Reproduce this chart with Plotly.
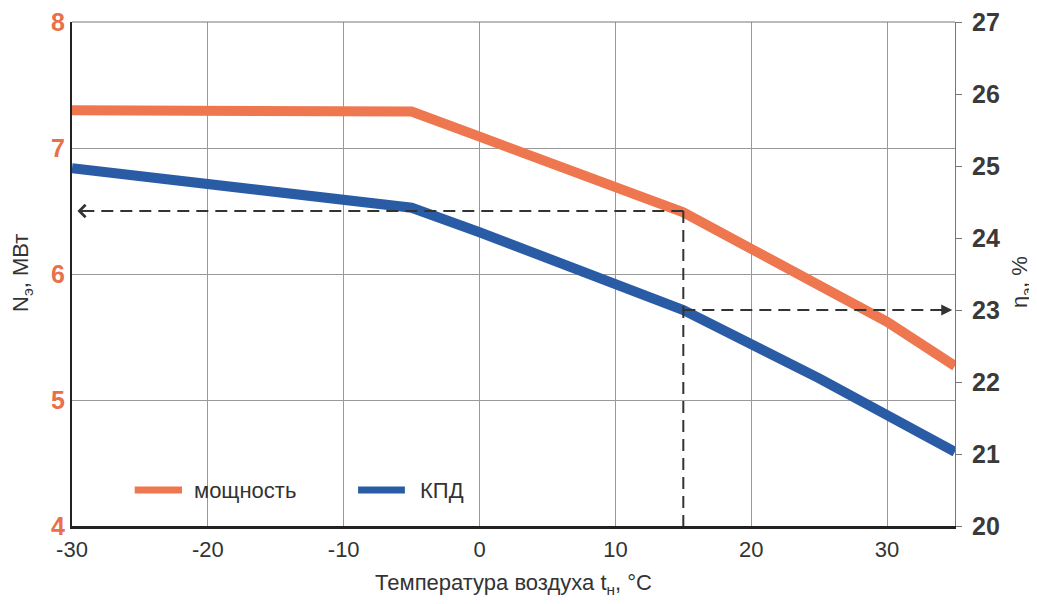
import plotly.graph_objects as go

# Data
temp_power = [-30, -5, 0, 10, 15, 20, 30, 35]
power = [7.3, 7.29, 7.09, 6.68, 6.49, 6.2, 5.62, 5.27]

temp_eff = [-30, -5, 0, 10, 15, 25, 35]
eff = [24.97, 24.42, 24.08, 23.38, 23.0, 22.05, 21.03]

series_names = ["мощность", "КПД"]

marker_t = 15
marker_power = 6.5
marker_eff = 23.0

x_ticks = [-30, -20, -10, 0, 10, 20, 30]
left_ticks = [4, 5, 6, 7, 8]
right_ticks = [20, 21, 22, 23, 24, 25, 26, 27]

ORANGE = "#EE7750"
BLUE = "#2A5CA6"
DASH = "#333333"
TXT = "#333333"
FONT = "Liberation Sans, Arial, sans-serif"

fig = go.Figure()
fig.add_trace(go.Scatter(x=temp_power, y=power, mode="lines", name=series_names[0],
                         line=dict(color=ORANGE, width=10), yaxis="y", showlegend=False))
fig.add_trace(go.Scatter(x=temp_eff, y=eff, mode="lines", name=series_names[1],
                         line=dict(color=BLUE, width=10), yaxis="y2", showlegend=False))

dash_line = dict(color=DASH, width=2, dash="12px,7px")
fig.add_shape(type="line", xref="x", yref="y", x0=marker_t, x1=-29.3,
              y0=marker_power, y1=marker_power, line=dash_line)
fig.add_shape(type="line", xref="x", yref="y", x0=marker_t, x1=marker_t,
              y0=marker_power, y1=4, line=dash_line)
fig.add_shape(type="line", xref="x", yref="y2", x0=marker_t, x1=34.4,
              y0=marker_eff, y1=marker_eff, line=dash_line)

fig.add_annotation(x=-29.6, y=marker_power, xref="x", yref="y",
                   ax=-28.6, ay=marker_power, axref="x", ayref="y",
                   showarrow=True, arrowhead=4, arrowsize=1.2, arrowwidth=2,
                   arrowcolor=DASH, text="")
fig.add_annotation(x=34.8, y=marker_eff, xref="x", yref="y2",
                   ax=33.8, ay=marker_eff, axref="x", ayref="y2",
                   showarrow=True, arrowhead=2, arrowsize=1.1, arrowwidth=2,
                   arrowcolor=DASH, text="")

# Legend drawn inside the plot (paper coordinates)
legend_items = [
    (series_names[0], ORANGE, 0.071, 0.1246, 0.136),
    (series_names[1], BLUE, 0.324, 0.377, 0.392),
]
for name, color, x0, x1, xt in legend_items:
    fig.add_shape(type="line", xref="paper", yref="paper", x0=x0, x1=x1,
                  y0=0.0714, y1=0.0714, line=dict(color=color, width=7))
    fig.add_annotation(x=xt, y=0.0714, xref="paper", yref="paper", text=name,
                       showarrow=False, xanchor="left", yanchor="middle",
                       font=dict(size=22, color=TXT, family=FONT))

# Y-axis titles (rotated)
fig.add_annotation(x=-0.0566, y=0.502, xref="paper", yref="paper",
                   text="N<sub>э</sub>, МВт", showarrow=False, textangle=-90,
                   xanchor="center", yanchor="middle",
                   font=dict(size=22, color=TXT, family=FONT))
fig.add_annotation(x=1.0747, y=0.484, xref="paper", yref="paper",
                   text="η<sub>э</sub>, %", showarrow=False, textangle=-90,
                   xanchor="center", yanchor="middle",
                   font=dict(size=22, color=TXT, family=FONT))

fig.update_layout(
    width=1029, height=596,
    margin=dict(l=64, r=82, t=14, b=78, autoexpand=False),
    paper_bgcolor="white", plot_bgcolor="white",
    font=dict(family=FONT, color=TXT),
    showlegend=False,
    xaxis=dict(range=[-30, 35], tickvals=x_ticks, ticktext=[str(v) for v in x_ticks],
               showgrid=True, gridcolor="#999999", gridwidth=1, zeroline=False,
               showline=True, linecolor="#222222", linewidth=3,
               ticks="", automargin=False, ticklabelstandoff=2,
               ticklabeloverflow="allow",
               tickfont=dict(size=22, color=TXT),
               title=dict(text="Температура воздуха t<sub>н</sub>, °C",
                          font=dict(size=22, color=TXT), standoff=14)),
    yaxis=dict(range=[4, 8], tickvals=left_ticks, ticktext=[str(v) for v in left_ticks],
               showgrid=True, gridcolor="#999999", gridwidth=1, zeroline=False,
               showline=True, linecolor="#222222", linewidth=2,
               ticks="", automargin=False, ticklabeloverflow="allow",
               tickfont=dict(size=25, color="#E8704A", weight="bold")),
    yaxis2=dict(range=[20, 27], tickvals=right_ticks, ticktext=[str(v) for v in right_ticks],
                overlaying="y", side="right", showgrid=False, zeroline=False,
                showline=True, linecolor="#777777", linewidth=1,
                ticks="outside", ticklen=6, tickcolor="#777777", automargin=False,
                ticklabeloverflow="allow", ticklabelstandoff=5,
                tickfont=dict(size=25, color="#3a3a3a", weight="bold")),
)
fig.add_shape(type="line", xref="paper", yref="paper", x0=0, x1=1, y0=1, y1=1,
              line=dict(color="#777777", width=1))

fig.write_html("out.html")
